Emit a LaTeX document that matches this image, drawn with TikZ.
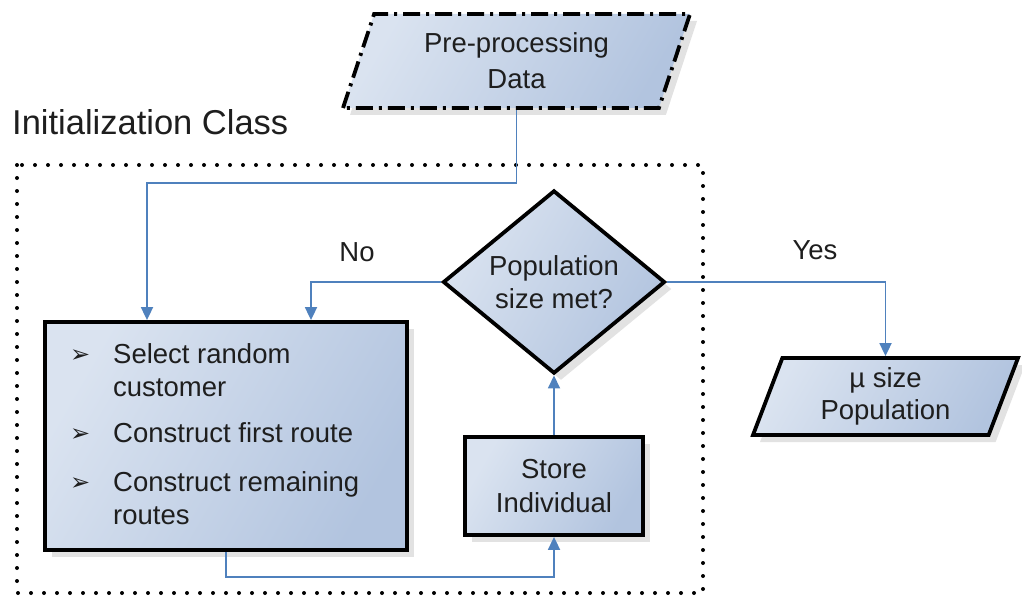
\documentclass[tikz,border=0pt]{standalone}
\usepackage{fontspec}
\setmainfont{Liberation Sans}
\newfontfamily\dejavu{DejaVu Sans}
\usetikzlibrary{shapes.geometric,arrows.meta,shadows}
\definecolor{fillL}{RGB}{218,227,240}
\definecolor{fillR}{RGB}{178,196,223}
\definecolor{lineblue}{RGB}{79,129,189}
\definecolor{txt}{RGB}{30,30,30}
\begin{document}
\begin{tikzpicture}[x=1pt,y=-1pt,
  shapebase/.style={draw=black, line width=3.8pt, left color=fillL, right color=fillR,
    shading angle=60, text=txt, font=\fontsize{27.5}{36}\selectfont, align=center,
    inner sep=0pt, drop shadow={shadow xshift=7pt, shadow yshift=-7pt, fill=gray!50, opacity=0.45}},
  para/.style={shapebase, trapezium, trapezium stretches body},
  procbox/.style={shapebase, rectangle},
  decision/.style={shapebase, diamond},
  arr/.style={draw=lineblue, line width=1.8pt, -{Triangle[width=12pt,length=13pt]}},
  lbl/.style={text=txt, font=\fontsize{27.5}{33}\selectfont, inner sep=0pt},
  bul/.style={},
  groupbox/.style={draw=black, line width=4pt, line cap=round, dash pattern=on 0pt off 13pt}
]
\useasboundingbox (0,0) rectangle (1022,599);

% group
\draw[groupbox] (17,165) rectangle (703,593);
\node[lbl, anchor=base west, font=\fontsize{34.5}{40}\selectfont] (title) at (12,135) {Initialization Class};

% nodes
\node[para, trapezium left angle=61, trapezium right angle=119, minimum width=347, minimum height=94,
  dash pattern=on 17pt off 6pt on 3pt off 6pt] (pre) at (516.5,61) {Pre-processing\\Data};

\node[procbox, minimum width=362, minimum height=228] (main) at (226,436) {};
\newcommand{\arrowbullet}{\raisebox{1pt}{\dejavu\fontsize{24}{24}\selectfont ➢}}
\node[lbl, anchor=base west] (list) at (70,363) {%
  \begin{tabular}[t]{@{}p{43pt}@{}l@{}}
  \arrowbullet & Select random\\
   & customer\\[13pt]
  \arrowbullet & Construct first route\\[16pt]
  \arrowbullet & Construct remaining\\
   & routes
  \end{tabular}};

\node[decision, minimum width=222, minimum height=170, font=\fontsize{27.5}{33}\selectfont] (dia) at (554,282) {Population\\size met?};

\node[procbox, minimum width=178, minimum height=98, font=\fontsize{27.5}{34}\selectfont] (store) at (554,486) {Store\\Individual};

\node[para, trapezium left angle=63, trapezium right angle=117, minimum width=265, minimum height=77,
  font=\fontsize{27.5}{32}\selectfont] (mu) at (885.5,396.5) {µ size\\Population};

\node[lbl] (no) at (357,252) {No};
\node[lbl] (yes) at (815,250) {Yes};

% connectors
\coordinate (j1) at (147,183);
\draw[arr] (pre.center |- pre.south) |- (j1) -- (j1 |- main.north);
\draw[arr] (dia.west) -| ([xshift=85pt]main.north);
\draw[arr] (dia.east) -| (mu.center |- mu.north);
\draw[arr] (main.south) -- ++(0,25) -| (store.south);
\draw[arr] (store.north) -- (dia.south);
\end{tikzpicture}
\end{document}
